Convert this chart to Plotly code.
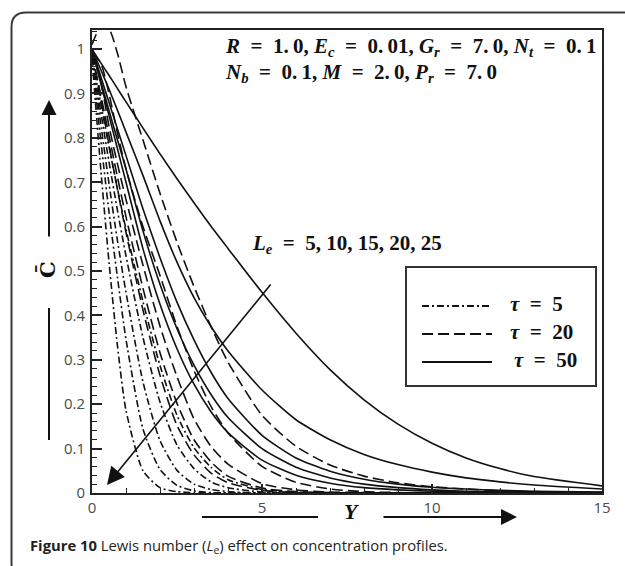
import plotly.graph_objects as go

# Coordinate Y across the boundary layer (shared by every profile)
Y = [0, 0.25, 0.5, 0.75, 1, 1.5, 2, 2.5, 3, 3.5, 4, 5, 6, 7, 8, 9, 10, 11, 12, 13, 15]

LEWIS = [5, 10, 15, 20, 25]

# Concentration profiles, one row per Lewis number (Le = 5, 10, 15, 20, 25)
c_tau5 = [
    [0.98, 0.88, 0.78, 0.685, 0.594, 0.431, 0.287, 0.175, 0.102, 0.058, 0.030, 0.008, 0.002, 0, 0, 0, 0, 0, 0, 0, 0],
    [0.98, 0.862, 0.746, 0.636, 0.534, 0.350, 0.205, 0.108, 0.055, 0.025, 0.012, 0.002, 0, 0, 0, 0, 0, 0, 0, 0, 0],
    [0.98, 0.836, 0.697, 0.568, 0.452, 0.250, 0.118, 0.051, 0.020, 0.008, 0.003, 0, 0, 0, 0, 0, 0, 0, 0, 0, 0],
    [0.98, 0.800, 0.633, 0.485, 0.346, 0.144, 0.053, 0.017, 0.005, 0.001, 0, 0, 0, 0, 0, 0, 0, 0, 0, 0, 0],
    [0.98, 0.737, 0.520, 0.331, 0.186, 0.050, 0.012, 0.003, 0.001, 0, 0, 0, 0, 0, 0, 0, 0, 0, 0, 0, 0],
]
c_tau20 = [
    [1.01, 1.05, 1.045, 0.99, 0.915, 0.795, 0.675, 0.565, 0.465, 0.375, 0.295, 0.175, 0.105, 0.063, 0.038, 0.023, 0.014, 0.009, 0.005, 0.003, 0.001],
    [0.99, 0.97, 0.90, 0.81, 0.73, 0.60, 0.49, 0.375, 0.276, 0.195, 0.135, 0.06, 0.024, 0.009, 0.003, 0.001, 0, 0, 0, 0, 0],
    [0.99, 0.93, 0.826, 0.741, 0.661, 0.513, 0.376, 0.262, 0.167, 0.105, 0.065, 0.021, 0.007, 0.002, 0.001, 0, 0, 0, 0, 0, 0],
    [0.99, 0.90, 0.805, 0.711, 0.622, 0.461, 0.316, 0.202, 0.12, 0.07, 0.038, 0.011, 0.003, 0.001, 0, 0, 0, 0, 0, 0, 0],
    [0.99, 0.89, 0.785, 0.683, 0.587, 0.412, 0.265, 0.152, 0.086, 0.045, 0.023, 0.006, 0.001, 0, 0, 0, 0, 0, 0, 0, 0],
]
c_tau50 = [
    [1.0, 0.970, 0.941, 0.911, 0.881, 0.822, 0.764, 0.708, 0.654, 0.601, 0.551, 0.452, 0.36, 0.278, 0.21, 0.155, 0.112, 0.079, 0.055, 0.037, 0.016],
    [1.0, 0.955, 0.91, 0.862, 0.813, 0.715, 0.613, 0.52, 0.44, 0.375, 0.32, 0.232, 0.165, 0.12, 0.087, 0.064, 0.047, 0.034, 0.025, 0.018, 0.009],
    [1.0, 0.94, 0.88, 0.82, 0.76, 0.64, 0.53, 0.43, 0.345, 0.272, 0.213, 0.13, 0.079, 0.049, 0.031, 0.02, 0.013, 0.009, 0.006, 0.004, 0.002],
    [1.0, 0.93, 0.862, 0.795, 0.73, 0.59, 0.47, 0.37, 0.288, 0.222, 0.17, 0.1, 0.058, 0.034, 0.02, 0.012, 0.007, 0.004, 0.003, 0.002, 0.001],
    [1.0, 0.925, 0.85, 0.775, 0.70, 0.55, 0.425, 0.325, 0.245, 0.183, 0.136, 0.074, 0.04, 0.022, 0.012, 0.007, 0.004, 0.002, 0.001, 0.001, 0],
]

TAU_LABELS = ["5", "20", "50"]
DASHES = ["7px,3px,2px,3px", "11px,5px", "solid"]

W, H = 625, 566
L, R, T, B = 92, 602, 30, 493   # plot area in pixels


def px(x):
    return (x - L) / (R - L)


def py(y):
    return (B - y) / (B - T)


fig = go.Figure()

for series, dash, tau in zip([c_tau5, c_tau20, c_tau50], DASHES, TAU_LABELS):
    for le, c in zip(LEWIS, series):
        fig.add_trace(go.Scatter(
            x=Y, y=c, mode="lines", name=f"tau = {tau}, Le = {le}",
            line=dict(color="#111", width=1.6, dash=dash, shape="spline", smoothing=0.6),
            showlegend=False, hoverinfo="skip",
        ))

math_font = dict(family="Liberation Serif", size=21, color="#111")
EQ = "\u2002=\u2002"
TS = "\u2009"
shapes = []
annotations = []

# rounded outer frame
frame_path = (
    f"M {px(26)},{py(578)} Q {px(11.5)},{py(578)} {px(11.5)},{py(563)} "
    f"L {px(11.5)},{py(27)} Q {px(11.5)},{py(12.5)} {px(26)},{py(12.5)} L {px(660)},{py(12.5)}"
)
shapes.append(dict(type="path", xref="paper", yref="paper", path=frame_path,
                   line=dict(color="#3a3a3a", width=2)))

# legend box with line samples
shapes.append(dict(type="rect", xref="paper", yref="paper",
                   x0=px(406), x1=px(596), y0=py(386), y1=py(267),
                   line=dict(color="#333", width=2), fillcolor="white", layer="above"))
for ly, dash, lab, tx in zip([306, 334, 362], DASHES, TAU_LABELS, [508, 508, 512]):
    shapes.append(dict(type="line", xref="paper", yref="paper",
                       x0=px(422), x1=px(492), y0=py(ly), y1=py(ly),
                       line=dict(color="#111", width=1.8, dash=dash), layer="above"))
    annotations.append(dict(xref="paper", yref="paper", x=px(tx), y=py(ly - 2),
                            xanchor="left", yanchor="middle", showarrow=False,
                            text=f"<b><i>τ</i>{EQ}{lab}</b>", font=math_font))

# y-axis direction marks
annotations.append(dict(xref="paper", yref="paper", x=px(49), y=py(100),
                        axref="pixel", ayref="pixel", ax=0, ay=138, text="",
                        showarrow=True, arrowhead=2, arrowsize=1.5, arrowwidth=2,
                        arrowcolor="#111", standoff=0))
shapes.append(dict(type="line", xref="paper", yref="paper",
                   x0=px(49), x1=px(49), y0=py(308), y1=py(440),
                   line=dict(color="#111", width=2)))

# x-axis direction marks
annotations.append(dict(xref="paper", yref="paper", x=px(517), y=py(517),
                        axref="pixel", ayref="pixel", ax=-135, ay=0, text="",
                        showarrow=True, arrowhead=2, arrowsize=1.6, arrowwidth=2,
                        arrowcolor="#111", standoff=0))
shapes.append(dict(type="line", xref="paper", yref="paper",
                   x0=px(202), x1=px(318), y0=py(517), y1=py(517),
                   line=dict(color="#111", width=2)))

# Lewis-number trend arrow
annotations.append(dict(xref="x", yref="y", x=0.44, y=0.018,
                        axref="x", ayref="y", ax=5.29, ay=0.473, text="",
                        showarrow=True, arrowhead=2, arrowsize=2.2, arrowwidth=1.6,
                        arrowcolor="#111", standoff=0))

annotations.append(dict(xref="paper", yref="paper", x=px(250), y=py(244),
                        xanchor="left", yanchor="middle", showarrow=False,
                        text=f"<b><i>L</i><sub><i>e</i></sub>{EQ}5, 10, 15, 20, 25</b>",
                        font=math_font))

annotations.append(dict(xref="paper", yref="paper", x=px(223), y=py(47),
                        xanchor="left", yanchor="middle", showarrow=False,
                        text=f"<b><i>R</i>{EQ}1.{TS}0, <i>E</i><sub><i>c</i></sub>{EQ}0.{TS}01, "
                             f"<i>G</i><sub><i>r</i></sub>{EQ}7.{TS}0, <i>N</i><sub><i>t</i></sub>{EQ}0.{TS}1</b>",
                        font=math_font))
annotations.append(dict(xref="paper", yref="paper", x=px(223), y=py(73),
                        xanchor="left", yanchor="middle", showarrow=False,
                        text=f"<b><i>N</i><sub><i>b</i></sub>{EQ}0.{TS}1, <i>M</i>{EQ}2.{TS}0, "
                             f"<i>P</i><sub><i>r</i></sub>{EQ}7.{TS}0</b>",
                        font=math_font))

# axis titles
annotations.append(dict(xref="paper", yref="paper", x=px(47), y=py(270),
                        xanchor="center", yanchor="middle", showarrow=False, textangle=-90,
                        text="<b>C\u0304</b>",
                        font=dict(family="DejaVu Serif", size=21, color="#111")))
annotations.append(dict(xref="paper", yref="paper", x=px(352), y=py(511),
                        xanchor="center", yanchor="middle", showarrow=False,
                        text="<b><i>Y</i></b>",
                        font=dict(family="Liberation Serif", size=22, color="#111")))

# caption
annotations.append(dict(xref="paper", yref="paper", x=px(28), y=py(546),
                        xanchor="left", yanchor="middle", showarrow=False,
                        text="<b>Figure 10</b> Lewis number (<i>L</i><sub>e</sub>) effect on concentration profiles.",
                        font=dict(family="Open Sans", size=14.8, color="#231f20")))

tick_font = dict(family="Open Sans", size=15, color="#4a4a4a")

fig.update_layout(
    width=W, height=H, autosize=False,
    margin=dict(l=L, r=W - R, t=T, b=H - B, pad=0),
    paper_bgcolor="white", plot_bgcolor="white",
    shapes=shapes, annotations=annotations, showlegend=False,
    xaxis=dict(range=[0, 15], tickvals=[0, 5, 10, 15], ticks="inside", ticklen=9,
               tickwidth=1.5, tickcolor="#222", showline=True, linecolor="#222",
               linewidth=2, mirror=True, showgrid=False, zeroline=False,
               minor=dict(dtick=1, ticks="inside", ticklen=5, tickwidth=1, tickcolor="#222"),
               tickfont=tick_font),
    yaxis=dict(range=[0, 1.043], tick0=0, dtick=0.1, ticks="inside", ticklen=10,
               tickwidth=1.5, tickcolor="#222", showline=True, linecolor="#222",
               linewidth=2, mirror=True, showgrid=False, zeroline=False,
               minor=dict(dtick=0.02, ticks="inside", ticklen=5, tickwidth=1, tickcolor="#222"),
               ticklabelstandoff=2, tickfont=tick_font),
)

fig.write_html("out.html")
